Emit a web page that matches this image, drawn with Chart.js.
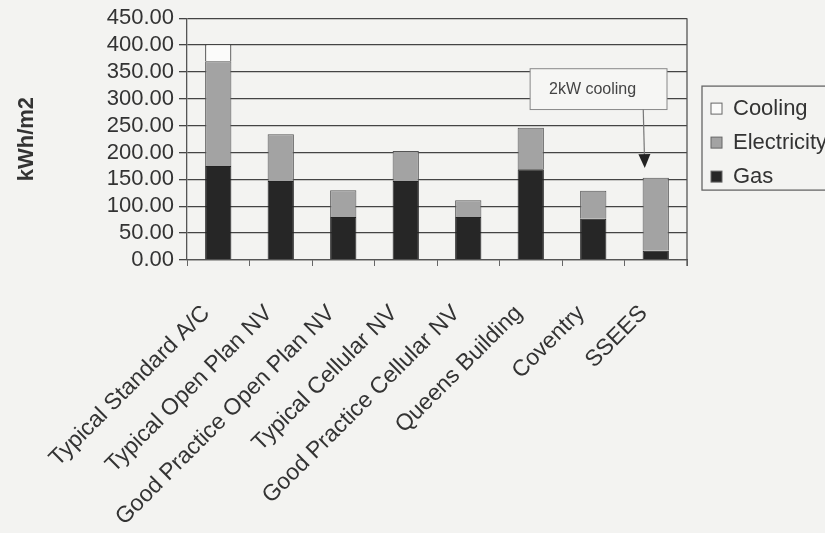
<!DOCTYPE html>
<html>
<head>
<meta charset="utf-8">
<script src="https://cdn.jsdelivr.net/npm/chart.js@4/dist/chart.umd.min.js"></script>
<style>
  html, body { margin: 0; padding: 0; background: #f3f3f1; }
  #wrap { width: 825px; height: 533px; }
</style>
</head>
<body>
<div id="wrap"><canvas id="results" width="825" height="533"></canvas></div>
<script>
// chart data
const buildings = ['Typical Standard A/C', 'Typical Open Plan NV', 'Good Practice Open Plan NV',
  'Typical Cellular NV', 'Good Practice Cellular NV', 'Queens Building', 'Coventry', 'SSEES'];
const gas = [175, 147, 80, 147, 80, 169, 77, 17];
const electricity = [195, 87, 50, 56, 31, 77, 52, 136];
const cooling = [32, 0, 0, 0, 0, 0, 0, 0];
const yTicks = [0, 50, 100, 150, 200, 250, 300, 350, 400, 450];

const textColour = '#333';
const fontFamily = '"Liberation Sans", Arial, sans-serif';

// paints the page colour behind everything
const background = {
  id: 'background',
  beforeDraw(chart) {
    let ctx = chart.ctx;
    ctx.save();
    ctx.fillStyle = '#f3f3f1';
    ctx.fillRect(0, 0, chart.width, chart.height);
    ctx.restore();
  }
};

// right hand border of the plot, the callout and the boxed legend
const extras = {
  id: 'extras',
  afterDraw(chart) {
    let ctx = chart.ctx;
    let area = chart.chartArea;
    let x = chart.scales.x;
    let y = chart.scales.y;
    ctx.save();

    // plot border on the right
    ctx.strokeStyle = '#555';
    ctx.lineWidth = 1.3;
    ctx.beginPath();
    ctx.moveTo(area.right, area.top);
    ctx.lineTo(area.right, area.bottom + 6);
    ctx.stroke();

    // callout pointing at SSEES
    let last = buildings.length - 1;
    let total = gas[last] + electricity[last] + cooling[last];
    let boxL = x.getPixelForValue(4.99);
    let boxR = x.getPixelForValue(7.18);
    let boxT = y.getPixelForValue(356);
    let boxB = y.getPixelForValue(280);
    ctx.fillStyle = '#f6f6f4';
    ctx.fillRect(boxL, boxT, boxR - boxL, boxB - boxT);
    ctx.strokeStyle = '#888';
    ctx.lineWidth = 1;
    ctx.strokeRect(boxL, boxT, boxR - boxL, boxB - boxT);
    ctx.fillStyle = '#444';
    ctx.font = '16px ' + fontFamily;
    ctx.textAlign = 'center';
    ctx.textBaseline = 'middle';
    ctx.fillText('2kW cooling', (boxL + boxR) / 2 - 6, (boxT + boxB) / 2);

    let fromX = x.getPixelForValue(6.8);
    let fromY = boxB;
    let tipX = x.getPixelForValue(last) - 11;
    let tipY = y.getPixelForValue(total + 18);
    let ang = Math.atan2(tipY - fromY, tipX - fromX);
    ctx.strokeStyle = '#777';
    ctx.lineWidth = 1.2;
    ctx.beginPath();
    ctx.moveTo(fromX, fromY);
    ctx.lineTo(tipX - 10 * Math.cos(ang), tipY - 10 * Math.sin(ang));
    ctx.stroke();
    ctx.fillStyle = '#222';
    ctx.beginPath();
    ctx.moveTo(tipX, tipY);
    ctx.lineTo(tipX - 14 * Math.cos(ang) + 6 * Math.sin(ang), tipY - 14 * Math.sin(ang) - 6 * Math.cos(ang));
    ctx.lineTo(tipX - 14 * Math.cos(ang) - 6 * Math.sin(ang), tipY - 14 * Math.sin(ang) + 6 * Math.cos(ang));
    ctx.closePath();
    ctx.fill();

    // legend box, top entry is the top of the stack
    let legL = area.right + 15;
    let legT = (area.top + area.bottom) / 2 - 53;
    ctx.strokeStyle = '#666';
    ctx.lineWidth = 1.3;
    ctx.strokeRect(legL, legT, 200, 104);
    ctx.font = '22px ' + fontFamily;
    ctx.textAlign = 'left';
    ctx.textBaseline = 'middle';
    let sets = chart.data.datasets.slice().reverse();
    sets.forEach((ds, i) => {
      let rowY = legT + 22 + i * 34;
      ctx.fillStyle = ds.backgroundColor;
      ctx.fillRect(legL + 9, rowY - 5, 11, 11);
      ctx.strokeStyle = '#666';
      ctx.lineWidth = 1;
      ctx.strokeRect(legL + 9, rowY - 5, 11, 11);
      ctx.fillStyle = textColour;
      ctx.fillText(ds.label, legL + 31, rowY + 1);
    });
    ctx.restore();
  }
};

function drawChart() {
  let c = document.getElementById('results');
  let context = c.getContext('2d');

  let results = new Chart(context, {
    type: 'bar',
    data: {
      labels: buildings,
      datasets: [
        { label: 'Gas', data: gas, backgroundColor: '#262626', borderColor: '#222', borderWidth: 1 },
        { label: 'Electricity', data: electricity, backgroundColor: '#a3a3a3', borderColor: '#555', borderWidth: 1 },
        { label: 'Cooling', data: cooling, backgroundColor: '#fbfbfa', borderColor: '#444', borderWidth: 1.2 }
      ]
    },
    options: {
      responsive: false,
      animation: false,
      layout: { padding: { left: 14, right: 138, top: 6, bottom: 0 } },
      datasets: { bar: { barPercentage: 0.42, categoryPercentage: 1 } },
      plugins: {
        legend: { display: false },
        tooltip: { enabled: false }
      },
      scales: {
        x: {
          stacked: true,
          afterFit(scale) { scale.height = 273; },
          grid: { drawOnChartArea: false, drawTicks: true, tickLength: 6, color: '#666', offset: true },
          border: { color: '#555', width: 1.3 },
          ticks: {
            color: textColour,
            font: { family: fontFamily, size: 23 },
            minRotation: 45,
            maxRotation: 45,
            autoSkip: false,
            labelOffset: -12,
            padding: 34
          }
        },
        y: {
          stacked: true,
          min: 0,
          max: 450,
          afterFit(scale) { scale.width = 173; },
          afterBuildTicks(scale) { scale.ticks = yTicks.map(v => ({ value: v })); },
          grid: { color: '#444', lineWidth: 1.3, tickLength: 8 },
          border: { color: '#555', width: 1.3 },
          ticks: {
            color: textColour,
            font: { family: fontFamily, size: 22 },
            autoSkip: false,
            padding: 5,
            callback: v => v.toFixed(2)
          },
          title: {
            display: true,
            text: 'kWh/m2',
            color: textColour,
            font: { family: fontFamily, size: 22, weight: 'bold' },
            padding: { top: 0, bottom: 0 }
          }
        }
      }
    },
    plugins: [background, extras]
  });
}

drawChart();
</script>
</body>
</html>
